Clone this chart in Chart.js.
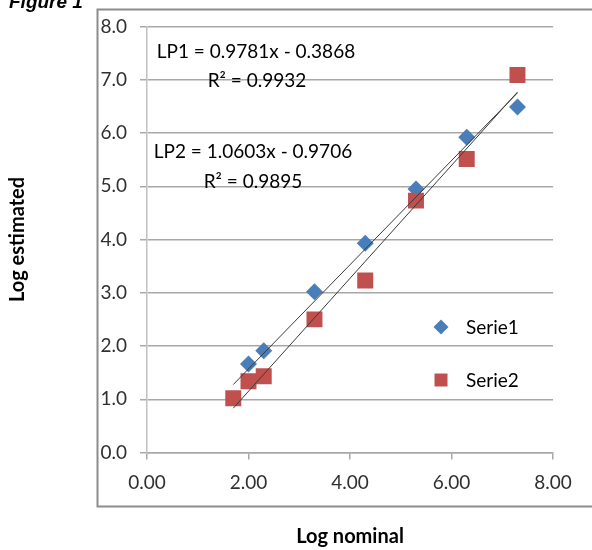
<!DOCTYPE html>
<html>
<head>
<meta charset="utf-8">
<script src="https://cdn.jsdelivr.net/npm/chart.js@4/dist/chart.umd.min.js"></script>
<style>
  html, body { margin: 0; padding: 0; background: #fff; overflow: hidden; }
  #wrap { width: 592px; height: 550px; position: relative; }
</style>
</head>
<body>
<div id="wrap"><canvas id="chart"></canvas></div>
<script>
// --- data -----------------------------------------------------------------------
const NOMINAL_1 = [2.0, 2.3, 3.3, 4.3, 5.3, 6.3, 7.3];
const ESTIMATED_1 = [1.66, 1.91, 3.02, 3.93, 4.95, 5.92, 6.49];
const NOMINAL_2 = [1.7, 2.0, 2.3, 3.3, 4.3, 5.3, 6.3, 7.3];
const ESTIMATED_2 = [1.02, 1.34, 1.43, 2.5, 3.23, 4.73, 5.51, 7.09];
const SERIES_LABELS = ['Serie1', 'Serie2'];
const FIT_NAMES = ['LP1', 'LP2'];
const FIT_SLOPES = [0.9781, 1.0603];
const FIT_INTERCEPTS = [-0.3868, -0.9706];
const FIT_R2 = [0.9932, 0.9895];
const FIT_X_RANGE = [1.7, 7.3];
const X_TICKS = [0, 2, 4, 6, 8];
const Y_TICKS = [0, 1, 2, 3, 4, 5, 6, 7, 8];

const FONT = 'Lato, "Open Sans", sans-serif';
const BLUE = '#4a7ebb';
const RED = '#c0504d';
const GRID = '#a8a8a8';

const pts = (xs, ys) => xs.map((x, i) => ({ x, y: ys[i] }));
const fitLine = (i) => FIT_X_RANGE.map((x) => ({ x, y: FIT_SLOPES[i] * x + FIT_INTERCEPTS[i] }));

function fitText(i) {
  const b = FIT_INTERCEPTS[i];
  return FIT_NAMES[i] + ' = ' + FIT_SLOPES[i].toFixed(4) + 'x ' + (b < 0 ? '- ' : '+ ') + Math.abs(b).toFixed(4);
}

// Outer frame of the original Excel chart + the cut-off "Figure 1" caption.
const framePlugin = {
  id: 'frame',
  beforeDraw(chart) {
    const ctx = chart.ctx;
    ctx.save();
    ctx.strokeStyle = '#8c8c8c';
    ctx.lineWidth = 2;
    ctx.strokeRect(97.5, 9.5, 600, 497);
    ctx.fillStyle = '#000';
    ctx.font = 'italic bold 19px "Liberation Sans", Arial, sans-serif';
    ctx.textBaseline = 'alphabetic';
    ctx.fillText('Figure 1', 9, 8);
    ctx.restore();
  },
};

// Trendline equations and the in-plot legend.
const notesPlugin = {
  id: 'notes',
  afterDatasetsDraw(chart) {
    const ctx = chart.ctx;
    ctx.save();
    ctx.fillStyle = '#000';
    ctx.font = '19px ' + FONT;
    ctx.textAlign = 'center';
    ctx.textBaseline = 'alphabetic';
    const eqPos = [[256, 58, 257, 87], [253, 158, 253, 188]];
    eqPos.forEach(([x1, y1, x2, y2], i) => {
      ctx.fillText(fitText(i), x1, y1);
      ctx.fillText('R\u00b2 = ' + FIT_R2[i].toFixed(4), x2, y2);
    });

    // legend
    ctx.textAlign = 'left';
    ctx.font = '19px ' + FONT;
    const rows = [[441, 327], [441, 380]];
    rows.forEach(([cx, cy], i) => {
      const ds = chart.data.datasets[i];
      ctx.fillStyle = ds.backgroundColor;
      ctx.beginPath();
      if (ds.pointStyle === 'rectRot') {
        const r = 7.5;
        ctx.moveTo(cx, cy - r); ctx.lineTo(cx + r, cy); ctx.lineTo(cx, cy + r); ctx.lineTo(cx - r, cy);
        ctx.closePath();
      } else {
        ctx.rect(cx - 6.5, cy - 6.5, 13, 13);
      }
      ctx.fill();
      ctx.fillStyle = '#000';
      ctx.fillText(ds.label, 466, cy + 7);
    });
    ctx.restore();
  },
};

new Chart(document.getElementById('chart'), {
  type: 'scatter',
  data: {
    datasets: [
      {
        label: SERIES_LABELS[0], data: pts(NOMINAL_1, ESTIMATED_1), order: 2,
        pointStyle: 'rectRot', pointRadius: 8.5, backgroundColor: BLUE, borderWidth: 0,
      },
      {
        label: SERIES_LABELS[1], data: pts(NOMINAL_2, ESTIMATED_2), order: 1,
        pointStyle: 'rect', pointRadius: 11.3, backgroundColor: RED, borderWidth: 0,
      },
      {
        label: FIT_NAMES[0], type: 'line', data: fitLine(0), order: 0,
        borderColor: '#3a3a3a', borderWidth: 1, pointRadius: 0, fill: false,
      },
      {
        label: FIT_NAMES[1], type: 'line', data: fitLine(1), order: 0,
        borderColor: '#3a3a3a', borderWidth: 1, pointRadius: 0, fill: false,
      },
    ],
  },
  options: {
    responsive: true,
    maintainAspectRatio: false,
    animation: false,
    layout: { padding: { top: 26.5, right: 39, bottom: 0, left: 0 } },
    plugins: { legend: { display: false }, tooltip: { enabled: false } },
    scales: {
      x: {
        type: 'linear', min: 0, max: 8,
        afterBuildTicks: (s) => { s.ticks = X_TICKS.map((value) => ({ value })); },
        afterFit: (s) => { s.height = 97.5; },
        ticks: {
          color: '#303030', padding: 12,
          font: { family: FONT, size: 19 },
          callback: (v) => Number(v).toFixed(2),
        },
        grid: { drawOnChartArea: false, drawTicks: true, tickLength: 7, color: GRID, lineWidth: 1.5 },
        border: { color: GRID, width: 1.5 },
        title: {
          display: true, text: 'Log nominal', color: '#000',
          font: { family: FONT, size: 20, weight: 'bold' }, padding: { top: 4, bottom: 1 },
        },
      },
      y: {
        type: 'linear', min: 0, max: 8,
        afterBuildTicks: (s) => { s.ticks = Y_TICKS.map((value) => ({ value })); },
        afterFit: (s) => { s.width = 147; },
        ticks: {
          color: '#303030', padding: 13,
          font: { family: FONT, size: 19 },
          callback: (v) => Number(v).toFixed(1),
        },
        grid: { drawTicks: true, tickLength: 7, color: GRID, lineWidth: 1.5 },
        border: { color: '#c0c0c0', width: 1.5 },
        title: {
          display: true, text: 'Log estimated', color: '#000',
          font: { family: FONT, size: 20, weight: 'bold' }, padding: { top: 6, bottom: 0 },
        },
      },
    },
  },
  plugins: [framePlugin, notesPlugin],
});
</script>
</body>
</html>
